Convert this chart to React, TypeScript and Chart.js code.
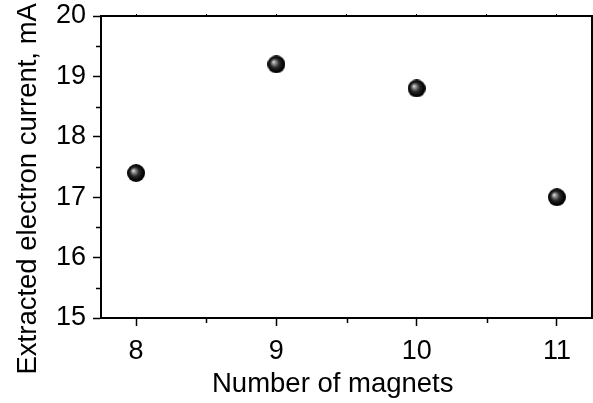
import React, { useEffect, useRef } from 'react';
import { Chart, registerables } from 'chart.js';

Chart.register(...registerables);

const magnets = [8, 9, 10, 11];
const current = [17.4, 19.2, 18.8, 17.0];
const xTicks = [8, 9, 10, 11];
const xMinorTicks = [8.5, 9.5, 10.5];
const xAllTicks = [8, 8.5, 9, 9.5, 10, 10.5, 11];
const yTicks = [15, 16, 17, 18, 19, 20];
const yMinorTicks = [15.5, 16.5, 17.5, 18.5, 19.5];
const yAllTicks = [15, 15.5, 16, 16.5, 17, 17.5, 18, 18.5, 19, 19.5, 20];
const xTitle = 'Number of magnets';
const yTitle = 'Extracted electron current, mA';

const FONT = '"Liberation Sans", Arial, Helvetica, sans-serif';

function makeBall(d: number): HTMLCanvasElement {
  const c = document.createElement('canvas');
  c.width = d;
  c.height = d;
  const ctx = c.getContext('2d')!;
  const r = d / 2;
  const g = ctx.createRadialGradient(r - 3, r - 2.5, 0, r, r, r);
  g.addColorStop(0, '#eeeeee');
  g.addColorStop(0.18, '#9a9a9a');
  g.addColorStop(0.5, '#2a2a2a');
  g.addColorStop(0.8, '#080808');
  g.addColorStop(1, '#000000');
  ctx.fillStyle = g;
  ctx.beginPath();
  ctx.arc(r, r, r, 0, Math.PI * 2);
  ctx.fill();
  return c;
}

const zeroPad = (s: any) => {
  s.paddingTop = 0;
  s.paddingBottom = 0;
  s.paddingLeft = 0;
  s.paddingRight = 0;
};

const decorPlugin = {
  id: 'decor',
  afterDraw(chart: any) {
    const { ctx, chartArea, scales } = chart;
    const xs = scales.x;
    const ys = scales.y;
    ctx.save();
    ctx.strokeStyle = '#000';
    ctx.lineWidth = 1.5;
    ctx.beginPath();
    xMinorTicks.forEach((v) => {
      const px = Math.round(xs.getPixelForValue(v)) + 0.5;
      ctx.moveTo(px, chartArea.bottom);
      ctx.lineTo(px, chartArea.bottom + 5);
    });
    yMinorTicks.forEach((v) => {
      const py = Math.round(ys.getPixelForValue(v)) + 0.5;
      ctx.moveTo(chartArea.left, py);
      ctx.lineTo(chartArea.left - 5, py);
    });
    ctx.stroke();

    ctx.fillStyle = '#000';
    ctx.font = `27.5px ${FONT}`;
    ctx.textAlign = 'left';
    ctx.textBaseline = 'alphabetic';
    ctx.fillText(xTitle, chartArea.left + 111, chartArea.bottom + 73.5);
    ctx.translate(35.5, chartArea.bottom + 56.5);
    ctx.rotate(-Math.PI / 2);
    ctx.fillText(yTitle, 0, 0);
    ctx.restore();
  },
};

export default function App() {
  const ref = useRef<HTMLCanvasElement>(null);

  useEffect(() => {
    const canvas = ref.current;
    if (!canvas) return;
    const ball = makeBall(18);
    const tickFont = { family: FONT, size: 27 };
    const chart = new Chart(canvas, {
      type: 'scatter',
      data: {
        datasets: [
          {
            data: magnets.map((m, i) => ({ x: m, y: current[i] })),
            pointStyle: ball as any,
            pointRadius: 9,
            pointHoverRadius: 9,
            showLine: false,
          },
        ],
      },
      options: {
        responsive: false,
        animation: false,
        devicePixelRatio: 1,
        layout: { autoPadding: false, padding: { left: 0, right: 1, top: 16, bottom: 0 } },
        plugins: {
          legend: { display: false },
          tooltip: { enabled: false },
        },
        scales: {
          x: {
            type: 'linear',
            position: 'bottom',
            min: 7.75,
            max: 11.25,
            afterBuildTicks: (s: any) => {
              s.ticks = xTicks.map((v) => ({ value: v }));
            },
            afterFit: (s: any) => {
              s.height = 85;
              zeroPad(s);
            },
            grid: {
              drawOnChartArea: false,
              drawTicks: true,
              tickLength: 8,
              tickWidth: 1.5,
              tickColor: '#000',
            },
            border: { display: true, color: '#000', width: 2 },
            ticks: {
              font: tickFont,
              color: '#000',
              padding: 9,
              maxRotation: 0,
              autoSkip: false,
            },
          },
          y: {
            type: 'linear',
            position: 'left',
            min: 15,
            max: 20,
            afterBuildTicks: (s: any) => {
              s.ticks = yTicks.map((v) => ({ value: v }));
            },
            afterFit: (s: any) => {
              s.width = 101;
              zeroPad(s);
            },
            grid: {
              drawOnChartArea: false,
              drawTicks: true,
              tickLength: 8,
              tickWidth: 1.5,
              tickColor: '#000',
            },
            border: { display: true, color: '#000', width: 2 },
            ticks: {
              font: tickFont,
              color: '#000',
              padding: 7,
              autoSkip: false,
            },
          },
          x2: {
            type: 'linear',
            position: 'top',
            min: 7.75,
            max: 11.25,
            afterBuildTicks: (s: any) => {
              s.ticks = xAllTicks.map((v) => ({ value: v }));
            },
            afterFit: (s: any) => {
              s.height = 0;
              zeroPad(s);
            },
            grid: {
              drawOnChartArea: false,
              drawTicks: true,
              tickLength: 2,
              tickWidth: 1,
              tickColor: '#000',
            },
            border: { display: true, color: '#000', width: 2 },
            ticks: { display: false },
          },
          y2: {
            type: 'linear',
            position: 'right',
            min: 15,
            max: 20,
            afterBuildTicks: (s: any) => {
              s.ticks = yAllTicks.map((v) => ({ value: v }));
            },
            afterFit: (s: any) => {
              s.width = 0;
              zeroPad(s);
            },
            grid: {
              drawOnChartArea: false,
              drawTicks: true,
              tickLength: 6,
              tickWidth: 1,
              tickColor: '#000',
            },
            border: { display: true, color: '#000', width: 2 },
            ticks: { display: false },
          },
        },
      },
      plugins: [decorPlugin],
    } as any);
    return () => chart.destroy();
  }, []);

  return (
    <div style={{ position: 'fixed', left: 0, top: 0, width: 593, height: 403, background: '#fff' }}>
      <canvas ref={ref} width={593} height={403} style={{ display: 'block', width: 593, height: 403 }} />
    </div>
  );
}
